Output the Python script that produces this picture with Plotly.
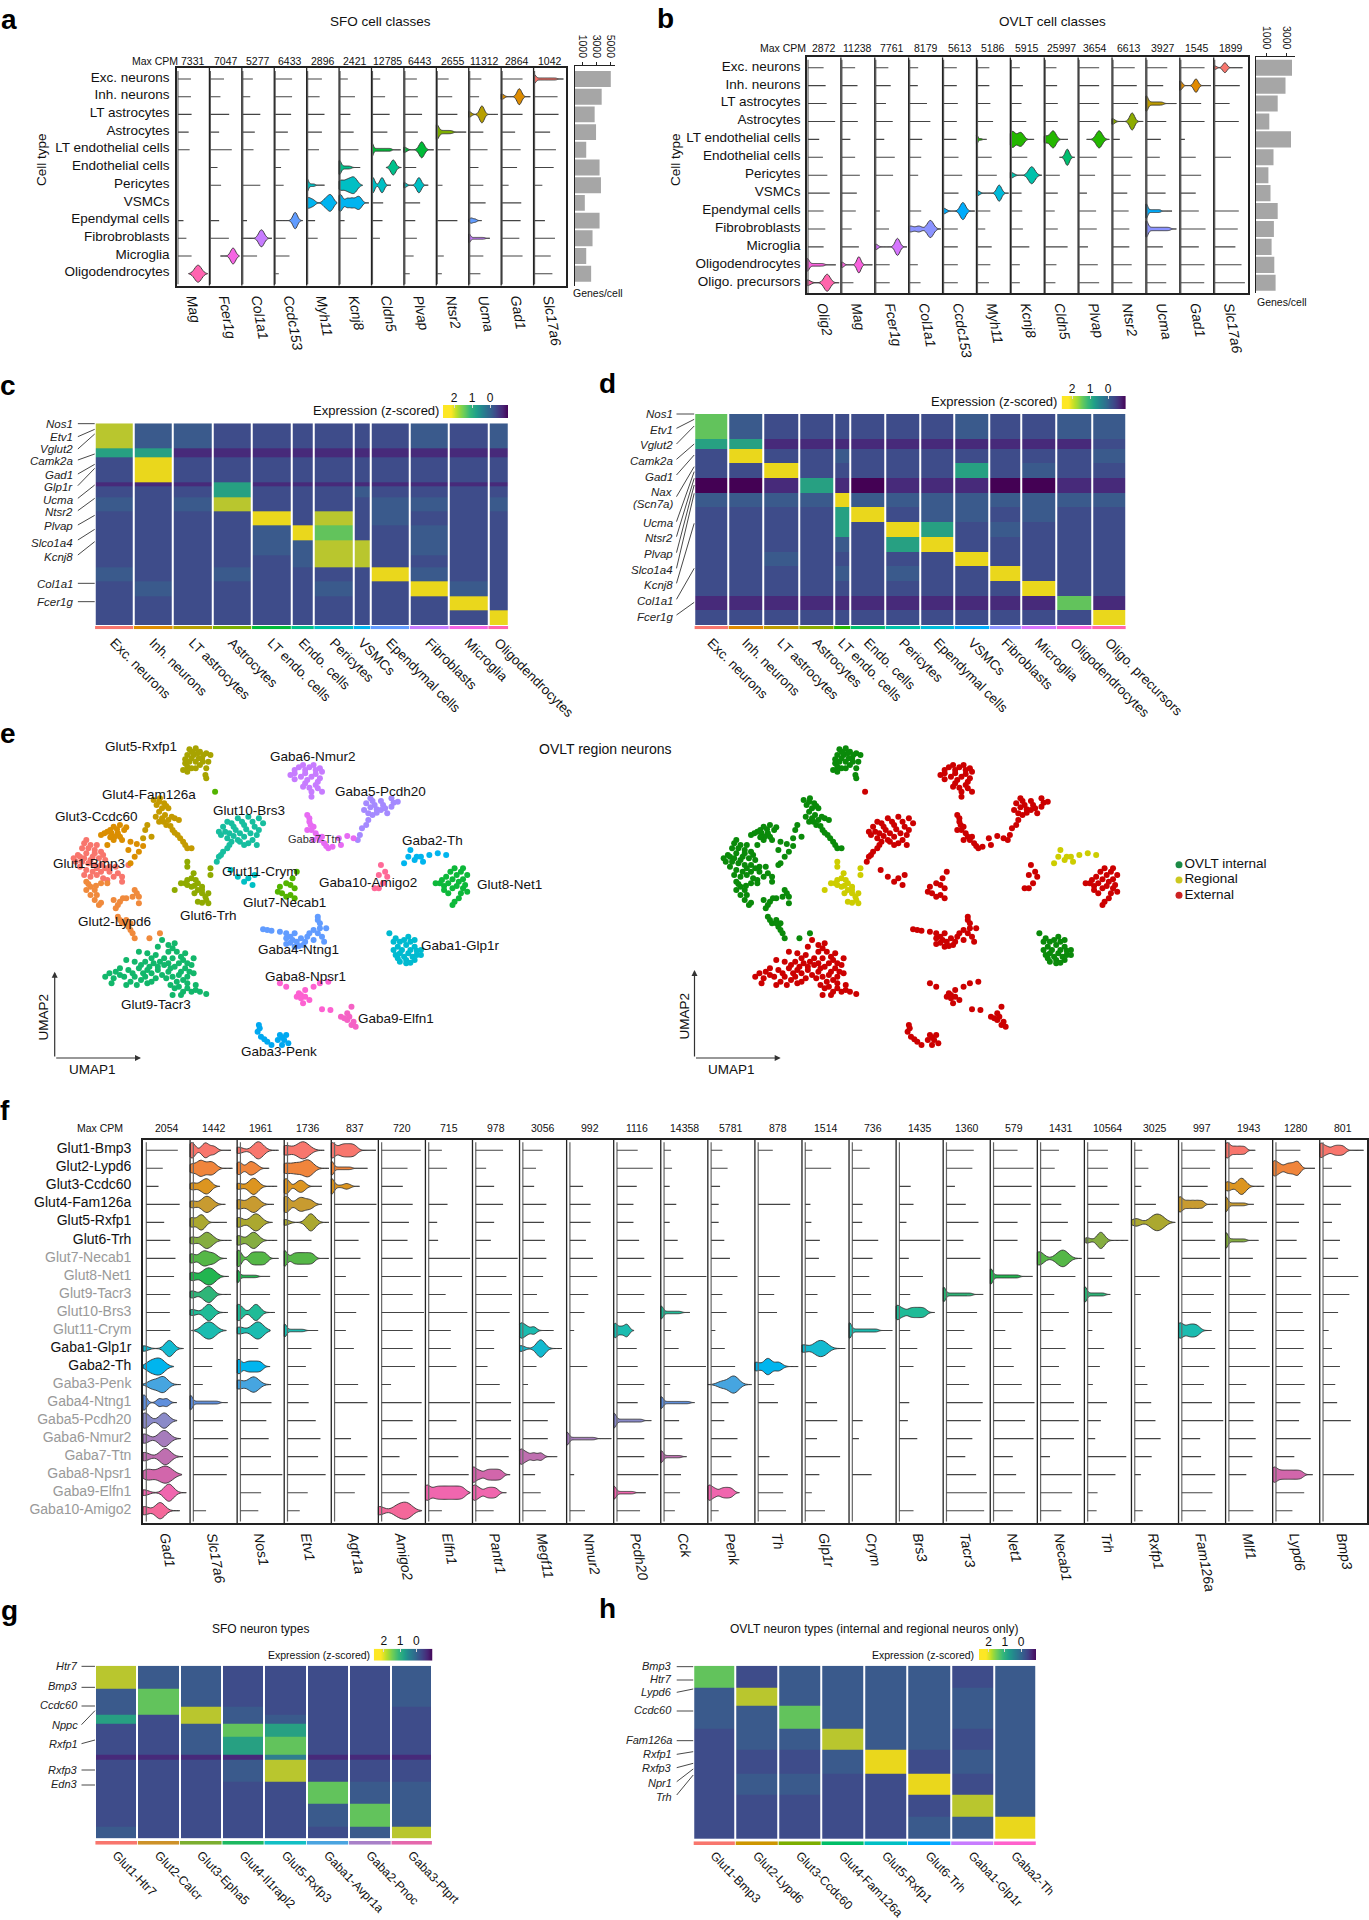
import plotly.graph_objects as go

W, H = 1369, 1920
FONT = "Liberation Sans, Arial, sans-serif"
DARK = "#222222"

# ---------- panels a / b ----------
A_ROWS = ["Exc. neurons", "Inh. neurons", "LT astrocytes", "Astrocytes", "LT endothelial cells", "Endothelial cells",
          "Pericytes", "VSMCs", "Ependymal cells", "Fibrobroblasts", "Microglia", "Oligodendrocytes"]
A_GENES = ["Mag", "Fcer1g", "Col1a1", "Ccdc153", "Myh11", "Kcnj8", "Cldn5", "Plvap", "Ntsr2", "Ucma", "Gad1", "Slc17a6"]
A_MAXCPM = [7331, 7047, 5277, 6433, 2896, 2421, 12785, 6443, 2655, 11312, 2864, 1042]
A_COLORS = ["#F8766D", "#DE8C00", "#B79F00", "#7CAE00", "#00BA38", "#00C08B", "#00BFC4", "#00B4F0", "#619CFF", "#C77CFF", "#F564E3", "#FF64B0"]
A_GENES_PER_CELL = [5100, 3800, 2800, 3000, 1600, 3500, 3700, 1400, 3500, 2500, 1600, 2300]
A_LINES = [
    [.43, .43, .45, .36, .39, 0, 0, 0, .2, .29, .45, 0],
    [.45, .34, .61, .3, .69, .25, .36, 0, .3, .6, 0, 0],
    [.34, .26, .57, .4, .36, 0, .57, 0, .16, 0, .47, 0],
    [.55, .55, .52, .42, .47, .21, .29, 0, 0, .35, .47, .14],
    [.47, .4, .55, .47, .38, 0, 0, 0, .26, .34, 0, 0],
    [.27, .49, .35, .45, .6, 0, 0, 0, .17, .55, 0, 0],
    [.27, .42, .56, .49, 0, 0, 0, .36, .34, .26, 0, 0],
    [.4, .43, .56, .43, 0, .38, 0, .5, .35, .4, .3, .18],
    [.38, .49, .65, 0, .43, 0, .19, 0, .65, 0, .23, .17],
    [.39, .32, 0, .45, .58, .3, .45, .52, 0, 0, .45, .36],
    [.66, 0, .66, .43, .6, .49, .23, .62, .6, .56, .66, 0],
    [0, .74, .77, .51, .69, .62, .27, 0, .35, .66, .53, .58],
]
# row, column, height, low, high, bandwidth, samples
WEDGE = [.01] * 8
A_VIOLINS = [
    (11, 0, .95, .36, .94, .105, [.63, .67]), (10, 1, .9, .34, .92, .075, [.72, .74]),
    (9, 2, .95, 0, .93, .085, [.6, .61]), (8, 3, .92, 0, .88, .07, [.64, .65]),
    (7, 4, .95, 0, .93, .07, [.02, .08, .2, .55, .65, .7, .75, .8]), (6, 4, .75, 0, .55, .04, WEDGE + [.06, .12, .18, .24]),
    (5, 5, .8, 0, .65, .05, WEDGE + [.07, .14, .21, .28, .35]), (6, 5, .95, 0, .72, .09, [.05, .25, .4, .5]),
    (7, 5, .95, 0, .92, .07, [.03, .05, .25, .4, .55, .65]), (4, 6, .8, 0, .9, .04, WEDGE + [.06, .12, .18, .24, .3, .36, .42, .48, .54, .6]),
    (5, 6, .85, .45, .92, .075, [.66, .68]), (6, 6, .9, 0, .6, .06, [.02, .05, .3, .35]),
    (4, 7, .9, 0, .92, .08, [.01, .55, .55, .55]), (6, 7, .85, 0, .75, .07, [.01, .45, .47, .47]),
    (3, 8, .85, 0, .92, .06, WEDGE + [.08, .16, .24, .32, .4, .48]), (2, 9, .95, 0, .9, .07, [.01, .4, .4, .42]),
    (8, 9, .3, 0, .4, .05, [.05, .1, .2]), (9, 9, .5, 0, .65, .04, WEDGE + [.06, .12, .18, .24, .3, .36, .42, .48]),
    (1, 10, .9, 0, .9, .07, [.02, .55, .56, .57]), (0, 11, .55, 0, .92, .05, WEDGE + [.07, .14, .21, .28, .35, .42, .49, .56, .63, .7]),
]

B_ROWS = ["Exc. neurons", "Inh. neurons", "LT astrocytes", "Astrocytes", "LT endothelial cells", "Endothelial cells", "Pericytes",
          "VSMCs", "Ependymal cells", "Fibrobroblasts", "Microglia", "Oligodendrocytes", "Oligo. precursors"]
B_GENES = ["Olig2", "Mag", "Fcer1g", "Col1a1", "Ccdc153", "Myh11", "Kcnj8", "Cldn5", "Plvap", "Ntsr2", "Ucma", "Gad1", "Slc17a6"]
B_MAXCPM = [2872, 11238, 7761, 8179, 5613, 5186, 5915, 25997, 3654, 6613, 3927, 1545, 1899]
B_COLORS = ["#F8766D", "#E18A00", "#BE9C00", "#8CAB00", "#24B700", "#00BE70", "#00C1AB", "#00BBDA", "#00ACFC", "#8B93FF", "#D575FE", "#F962DD", "#FF65AC"]
B_GENES_PER_CELL = [3600, 2950, 2170, 1330, 3500, 1750, 1240, 1450, 2170, 1790, 1560, 1830, 1960]
B_LINES = [
    [.49, .55, .58, .83, .36, .47, .6, .67, .49, .54, .49, 0, 0],
    [.42, .49, .46, .5, .28, .42, .56, .47, .44, .32, .53, 0, .37],
    [.4, .47, .33, .53, .28, .59, .54, 0, .15, .42, 0, .44, .44],
    [.28, .27, .54, .64, .4, .37, .28, 0, .37, 0, 0, .27, .35],
    [.42, .42, .45, .42, .41, .47, .58, .47, 0, .45, .45, .45, .45],
    [.38, .38, .41, .49, 0, .45, .6, 0, .41, .26, .45, .41, .37],
    [.28, .37, .33, .47, 0, .5, 0, .33, .35, .37, .56, .28, .28],
    [.36, .38, .4, .4, 0, 0, .46, .4, .31, .4, .69, .36, .33],
    [.62, .62, .62, .62, 0, .55, .5, .26, .53, .55, .29, .58, .62],
    [.67, .73, .77, 0, .23, .6, .55, .45, .49, .51, .51, .58, .6],
    [.63, .51, 0, .6, .44, .41, .58, .58, 0, 0, .5, .6, .6],
    [.73, 0, .63, .73, .15, .47, .63, .47, .56, .76, .56, .73, .72],
    [0, .77, .47, .74, 0, .51, 0, 0, .74, .71, .64, .82, .92],
]
B_VIOLINS = [
    (11, 0, .7, 0, .85, .05, WEDGE + [.07, .14, .21, .28, .35, .42, .49]), (12, 0, .95, 0, .95, .09, [.01, .58, .6, .6]),
    (11, 1, .9, .02, .93, .06, [.03, .53, .53, .53]), (10, 2, .95, .02, .95, .07, [.02, .67, .67, .67]),
    (9, 3, .95, 0, .95, .09, [.05, .3, .62, .64, .66]), (8, 4, .95, 0, .95, .08, [.03, .6, .6, .6]),
    (7, 5, .9, 0, .95, .07, [.02, .67, .67, .67]), (6, 6, .95, 0, .93, .09, [.01, .6, .63, .66]),
    (4, 6, .9, 0, .7, .07, [.03, .1, .25, .35]), (4, 7, .95, 0, .7, .075, [.03, .2, .27, .3]),
    (5, 7, .9, .45, .9, .06, [.67, .69]), (4, 8, .95, .25, .92, .09, [.61, .63]),
    (3, 9, .95, 0, .92, .07, [.01, .58, .6, .6]), (2, 10, .85, 0, .9, .05, WEDGE + [.07, .14, .21, .28, .35, .42, .49]),
    (8, 10, .8, 0, .77, .04, WEDGE + [.06, .12, .18, .24, .3, .36, .42]), (9, 10, .9, 0, .9, .05, WEDGE + [.07, .14, .21, .28, .35, .42, .49, .56, .63, .7]),
    (4, 5, .5, 0, .3, .03, WEDGE + [.05, .1, .15]), (1, 11, .75, 0, .92, .06, [.01, .01, .45, .48, .5]),
    (0, 12, .55, 0, .85, .055, [.03, .3, .33, .36]),
]

# ---------- panels c / d / g / h: marker heatmaps ----------
C_CLUSTERS = ["Exc. neurons", "Inh. neurons", "LT astrocytes", "Astrocytes", "LT endo. cells", "Endo. cells", "Pericytes", "VSMCs",
              "Ependymal cells", "Fibroblasts", "Microglia", "Oligodendrocytes"]
C_X_EDGES = [225, 317, 411, 505, 598, 692, 746, 840, 880, 973, 1067, 1160, 1208]
C_Y_EDGES = [160, 235, 262, 290, 338, 350, 382, 402, 424, 467, 510, 555, 592, 635, 678, 720, 765]
C_BANDS = ["733222222323", "551111111111", "282222222222", "282222222222", "111511111111", "222522232222", "323722223323",
           "323722223323", "222282723222", "222238622322", "222233772322", "222223772222", "322322228322", "232222322832",
           "222222222282", "222222222228"]
C_GENES = [("Nos1", 161, 161, 161), ("Etv1", 200, 200, 178), ("Vglut2", 237, 237, 192), ("Camk2a", 273, 270, 252),
           ("Gad1", 315, 312, 283), ("Glp1r", 352, 347, 295), ("Ucma", 390, 385, 345), ("Ntsr2", 426, 422, 385),
           ("Plvap", 469, 465, 436), ("Slco1a4", 518, 510, 478), ("Kcnj8", 561, 555, 515), ("Col1a1", 642, 640, 640),
           ("Fcer1g", 695, 695, 695)]

D_CLUSTERS = ["Exc. neurons", "Inh. neurons", "LT astrocytes", "Astrocytes", "LT endo. cells", "Endo. cells", "Pericytes",
              "Ependymal cells", "VSMCs", "Fibroblasts", "Microglia", "Oligodendrocytes", "Oligo. precursors"]
D_X_EDGES = [200, 281, 365, 449, 532, 571, 654, 738, 818, 902, 977, 1061, 1145, 1226]
D_Y_EDGES = [132, 208, 237, 280, 323, 368, 412, 456, 500, 545, 588, 632, 677, 720, 765]
D_BANDS = ["6322222232233", "5511111111112", "2822322222223", "2282222252322", "0015101110011", "3333833333333",
           "2222582332322", "2222528523222", "2222325822222", "2232222282222", "2222323228222", "2222222222822",
           "1111111111161", "2222222222228"]
D_GENES = [("Nos1", 132, 132, 132), ("Etv1", 179, 175, 148), ("Vglut2", 226, 222, 168), ("Camk2a", 273, 268, 222),
           ("Gad1", 320, 315, 255), ("Nax", 367, 380, 290), ("(Scn7a)", 403, None, None), ("Ucma", 458, 455, 305),
           ("Ntsr2", 505, 500, 325), ("Plvap", 552, 548, 345), ("Slco1a4", 599, 595, 370), ("Kcnj8", 646, 640, 460),
           ("Col1a1", 693, 688, 595), ("Fcer1g", 740, 735, 697)]

G_CLUSTERS = ["Glut1-Htr7", "Glut2-Calcr", "Glut3-Epha5", "Glut4-Il1rapl2", "Glut5-Rxfp3", "Gaba1-Avpr1a", "Gaba2-Pnoc", "Gaba3-Ptprt"]
G_X_EDGES = [219, 317, 414, 512, 609, 707, 804, 902, 997]
G_Y_EDGES = [227, 295, 350, 375, 400, 440, 495, 510, 575, 640, 710, 745]
G_BANDS = ["73322223", "36322223", "36732222", "52733222", "22365222", "22356222", "11114111", "22237222", "22222633", "22222363", "32222237"]
G_COLORS = ["#F8766D", "#CD9128", "#7CAE30", "#1CB860", "#12BFC4", "#4AA4E0", "#A880C8", "#E568AC"]
G_GENES = [("Htr7", 227, 229, 229), ("Bmp3", 289, 292, 292), ("Ccdc60", 346, 348, 348), ("Nppc", 404, 404, 362),
           ("Rxfp1", 461, 461, 450), ("Rxfp3", 539, 540, 540), ("Edn3", 583, 585, 585)]

H_CLUSTERS = ["Glut1-Bmp3", "Glut2-Lypd6", "Glut3-Ccdc60", "Glut4-Fam126a", "Glut5-Rxfp1", "Glut6-Trh", "Gaba1-Glp1r", "Gaba2-Th"]
H_X_EDGES = [238, 335, 434, 533, 632, 732, 832, 931, 1029]
H_Y_EDGES = [197, 262, 318, 385, 450, 520, 585, 650, 717]
H_BANDS = ["62333323", "37333333", "33633333", "23373323", "22238233", "23322823", "22222273", "22222338"]
H_COLORS = ["#F8766D", "#CD9600", "#7CAE00", "#00BE67", "#00BFC4", "#00A9FF", "#C77CFF", "#FF61CC"]
H_GENES = [("Bmp3", 197, 200, 200), ("Htr7", 237, 240, 240), ("Lypd6", 275, 277, 267), ("Ccdc60", 331, 333, 333),
           ("Fam126a", 420, 422, 422), ("Rxfp1", 463, 463, 455), ("Rxfp3", 505, 503, 490), ("Npr1", 549, 545, 507), ("Trh", 590, 585, 525)]

HEAT_LEVELS = ["#440154", "#472a7a", "#3e4c8a", "#3a5a8c", "#2f7f8e", "#27a082", "#62c35c", "#b9c62e", "#ead71c", "#fde725"]
COLORBAR_Z = [2.6, 2.3, 2.0, 1.7, 1.4, 1.1, .8, .5, .2, -.1, -.4, -.7, -1.0]
COLORBAR_TICKS = [2, 1, 0]

# ---------- panel e: UMAP ----------
UMAP_CLUSTERS = {
    "Glut1": [(205,360),(215,375),(195,385),(225,390),(240,395),(185,405),(205,400),(220,410),(235,415),(250,420),(180,425),(195,425),(210,430),(225,435),(240,435),(260,440),(205,450),(220,455),(240,455),(260,455),(280,460),(290,470),(215,470),(245,475),(275,440),(225,400),(190,410),(290,485),(305,435),(200,370),(230,375),(210,385),(175,415),(200,415),(215,420),(245,405),(190,440),(230,445),(250,445),(200,465),(230,465),(270,470),(255,480)],
    "Glut2": [(205,485),(215,500),(205,510),(225,510),(240,490),(255,490),(215,525),(225,540),(235,555),(270,540),(285,545),(300,535),(320,510),(330,530),(315,530),(330,550),(275,565),(280,590),(290,610),(305,620),(315,640),(320,655),(300,600),(310,610),(355,655),(380,640),(210,492),(230,525),(240,548),(280,555),(292,535),(325,520),(285,600),(310,630),(228,497),(300,610)],
    "Glut3": [(240,345),(255,335),(270,320),(285,315),(300,322),(265,340),(280,340),(290,360),(270,360),(255,375),(310,365),(325,372),(340,378),(330,395),(320,410),(310,430),(305,390),(295,330),(248,340),(262,330),(278,328),(272,350),(262,352),(285,350)],
    "Glut4": [(365,240),(380,235),(390,250),(372,255),(385,265),(400,265),(370,290),(385,295),(400,300),(415,295),(425,300),(395,315),(378,305),(410,330),(422,345),(435,365),(445,385),(455,385),(350,315),(345,330),(360,350),(340,355),(378,245),(395,258),(378,275),(392,285),(408,290),(388,305),(405,318),(415,338),(428,355),(440,375)],
    "Glut5": [(450,88),(465,85),(475,95),(490,100),(500,105),(445,105),(460,105),(480,115),(495,125),(465,125),(450,125),(440,130),(435,150),(445,155),(455,145),(475,135),(490,145),(488,165),(490,175),(470,100),(455,95),(458,97),(483,105),(455,115),(472,115),(445,140),(465,145),(482,125),(440,118)],
    "Glut6": [(440,490),(455,475),(470,490),(480,500),(430,490),(455,500),(470,510),(480,520),(495,520),(490,540),(470,545),(495,550),(445,440),(445,425),(500,445),(500,465),(415,510),(460,460),(445,480),(465,480),(445,495),(462,497),(480,510),(462,520),(488,530),(480,548)],
    "Glut7": [(705,455),(695,475),(680,490),(665,500),(690,495),(700,505),(670,520),(690,525),(700,535),(660,515),(680,530),(511,215)],
    "Glut8": [(1080,445),(1100,445),(1110,465),(1060,470),(1085,465),(1045,490),(1065,490),(1090,485),(1035,490),(1075,505),(1100,505),(1110,515),(1055,510),(1080,545),(1090,535),(1075,555),(1070,455),(1095,455),(1050,480),(1075,478),(1100,478),(1055,498),(1085,498),(1105,495),(1065,520),(1095,520)],
    "Glut9": [(385,660),(400,675),(415,670),(400,695),(420,695),(440,700),(460,715),(330,695),(350,700),(370,705),(390,715),(410,715),(435,720),(455,735),(300,720),(320,725),(345,725),(365,730),(390,735),(415,740),(440,745),(460,760),(285,745),(305,750),(330,745),(350,750),(375,750),(400,755),(425,765),(445,770),(260,760),(250,770),(270,775),(295,770),(320,770),(345,770),(370,775),(395,775),(420,785),(445,790),(465,795),(300,795),(325,795),(350,790),(415,805),(435,815),(455,815),(475,815),(490,822),(410,825),(430,825),(375,680),(410,685),(430,710),(360,715),(380,725),(400,730),(425,730),(445,730),(335,735),(355,740),(375,740),(405,745),(430,755),(450,755),(315,760),(340,760),(360,760),(385,765),(410,770),(435,780),(285,765),(310,785),(335,780),(360,785),(405,795),(425,800),(445,805),(465,810),(275,755),(265,790)],
    "Glut10": [(540,305),(565,295),(590,290),(615,295),(625,310),(530,320),(555,320),(580,315),(605,320),(615,330),(520,335),(545,340),(570,340),(595,340),(540,355),(565,360),(590,370),(610,375),(545,375),(530,395),(520,410),(515,425),(570,365),(550,310),(575,305),(600,305),(535,335),(560,330),(585,328),(610,345),(525,345),(555,348),(580,350),(600,360),(550,365),(580,375),(540,385),(525,405)],
    "Glut11": [(548,450),(565,470),(580,485),(600,495),(590,475),(605,465)],
    "Gaba1": [(925,640),(940,655),(950,665),(970,650),(985,660),(945,680),(965,675),(985,680),(1000,690),(935,690),(950,700),(970,700),(990,705),(945,715),(965,720),(985,720),(965,730),(1000,705),(935,665),(960,660),(975,665),(955,690),(975,690),(990,692),(940,705),(960,710),(980,710),(950,725),(975,728)],
    "Gaba2": [(975,390),(970,410),(960,430),(985,420),(1000,410),(1020,405),(1040,400),(1060,405),(1005,425),(990,410)],
    "Gaba3": [(615,915),(612,935),(620,950),(635,965),(645,975),(665,945),(680,945),(660,960),(675,960),(685,970),(670,975),(617,925),(628,958),(670,952)],
    "Gaba4": [(625,628),(645,632),(665,635),(680,640),(700,640),(755,590),(760,610),(775,625),(745,630),(755,640),(730,650),(680,655),(695,660),(715,655),(745,660),(770,665),(680,672),(700,680),(720,675),(635,630),(690,650),(705,665),(725,665),(735,640),(760,625),(765,650),(755,600),(690,668),(710,678)],
    "Gaba5": [(880,235),(930,235),(945,245),(870,250),(890,255),(910,255),(930,260),(865,270),(905,270),(920,280),(885,285),(875,300),(870,315),(860,325),(855,345),(850,360),(885,243),(905,243),(935,248),(880,262),(895,268),(915,265),(875,280),(895,278)],
    "Gaba6": [(720,135),(745,135),(700,150),(725,150),(750,150),(765,155),(690,165),(715,170),(740,170),(760,175),(725,190),(750,195),(740,215),(765,215),(740,230),(720,200),(710,142),(735,142),(760,145),(700,160),(725,160),(750,162),(700,178),(730,180),(755,185),(735,203),(755,205)],
    "Gaba7": [(730,285),(735,305),(745,320),(730,330),(750,340),(765,350),(745,360),(770,370),(790,380),(780,385),(805,355),(825,348),(840,355),(810,375),(735,295),(738,315),(740,330),(755,350),(760,360),(775,378)],
    "Gaba8": [(665,790),(680,800),(710,820),(725,810),(745,800),(760,790),(780,785),(715,835),(735,840),(720,850),(765,868),(785,870),(715,825),(725,830),(705,830)],
    "Gaba9": [(835,860),(825,880),(810,890),(825,900),(835,915),(845,920),(830,890),(840,905),(818,895)],
    "Gaba10": [(905,435),(915,455),(900,465),(920,470),(910,490),(890,505),(900,505)],
}
UMAP_COLORS = {"Glut1": "#F8766D", "Glut2": "#F08A3C", "Glut3": "#DB8E00", "Glut4": "#C49A00", "Glut5": "#A8A300", "Glut6": "#8FAA00",
               "Glut7": "#53B400", "Glut8": "#0DB83A", "Glut9": "#12B76B", "Glut10": "#17BE9F", "Glut11": "#00BFC4", "Gaba1": "#00BAD0",
               "Gaba2": "#00B5EE", "Gaba3": "#00A8F0", "Gaba4": "#619CFF", "Gaba5": "#A58AFF", "Gaba6": "#C77CFF", "Gaba7": "#E76BF3",
               "Gaba8": "#FD61D1", "Gaba9": "#F562C5", "Gaba10": "#FF6A98"}
UMAP_STATUS = {"OVLT internal": ["Glut1", "Glut2", "Glut3", "Glut4", "Glut5", "Gaba1"], "Regional": ["Glut6", "Gaba2"],
               "External": ["Glut7", "Glut8", "Glut9", "Glut10", "Glut11", "Gaba3", "Gaba4", "Gaba5", "Gaba6", "Gaba7", "Gaba8", "Gaba9", "Gaba10"]}
STATUS_COLORS = {"OVLT internal": "#0A8A0A", "Regional": "#CDCD00", "External": "#CC0000"}
LEGEND_COLORS = {"OVLT internal": "#1B8A45", "Regional": "#CCC820", "External": "#CC2222"}
UMAP_LABELS = [("Glut5-Rxfp1", 335, 78), ("Gaba6-Nmur2", 743, 110), ("Gaba5-Pcdh20", 905, 213), ("Glut4-Fam126a", 353, 222),
               ("Glut10-Brs3", 592, 270), ("Glut3-Ccdc60", 230, 288), ("Gaba2-Th", 1028, 360), ("Glut1-Bmp3", 212, 430),
               ("Glut11-Crym", 617, 453), ("Gaba10-Amigo2", 875, 488), ("Glut8-Net1", 1210, 493), ("Glut7-Necab1", 677, 546),
               ("Glut6-Trh", 495, 587), ("Glut2-Lypd6", 272, 603), ("Gaba1-Glp1r", 1095, 675), ("Gaba4-Ntng1", 710, 687),
               ("Gaba8-Npsr1", 725, 768), ("Glut9-Tacr3", 371, 853), ("Gaba9-Elfn1", 940, 895), ("Gaba3-Penk", 662, 995)]

# ---------- panel f ----------
F_ROWS = ["Glut1-Bmp3", "Glut2-Lypd6", "Glut3-Ccdc60", "Glut4-Fam126a", "Glut5-Rxfp1", "Glut6-Trh", "Glut7-Necab1", "Glut8-Net1",
          "Glut9-Tacr3", "Glut10-Brs3", "Glut11-Crym", "Gaba1-Glp1r", "Gaba2-Th", "Gaba3-Penk", "Gaba4-Ntng1", "Gaba5-Pcdh20",
          "Gaba6-Nmur2", "Gaba7-Ttn", "Gaba8-Npsr1", "Gaba9-Elfn1", "Gaba10-Amigo2"]
F_ROW_IS_BLACK = [1, 1, 1, 1, 1, 1, 0, 0, 0, 0, 0, 1, 1, 0, 0, 0, 0, 0, 0, 0, 0]
F_COLORS = ["#F8766D", "#F0853C", "#DC9520", "#C89B30", "#ABA82F", "#85AD40", "#55B747", "#22B550", "#2EB578", "#1FBB97", "#1BBCB0",
            "#12BAD0", "#00B5EE", "#46A5E0", "#5F8FDC", "#8A8AC8", "#A67CBC", "#BF6FB0", "#D266AB", "#F066AE", "#F4689A"]
F_GENES = ["Gad1", "Slc17a6", "Nos1", "Etv1", "Agtr1a", "Amigo2", "Elfn1", "Pantr1", "Megf11", "Nmur2", "Pcdh20", "Cck", "Penk", "Th",
           "Glp1r", "Crym", "Brs3", "Tacr3", "Net1", "Necab1", "Trh", "Rxfp1", "Fam126a", "Mlf1", "Lypd6", "Bmp3"]
F_MAXCPM = [2054, 1442, 1961, 1736, 837, 720, 715, 978, 3056, 992, 1116, 14358, 5781, 878, 1514, 736, 1435, 1360, 579, 1431, 10564, 3025, 997, 1943, 1280, 801]
F_LINES = [
    [.74, .42, .33, .78, .45, .58, .69, .66, .58, .57, .58, 0, 0, 0, 0, 0, 0, 0, 0, 0, 0],
    [0, 0, 0, 0, 0, 0, 0, 0, 0, 0, 0, .49, .47, .27, 0, .7, .81, .81, .78, 0, .34],
    [0, 0, 0, 0, 0, 0, 0, 0, .7, 0, 0, .45, 0, 0, .73, .62, .67, .72, .96, .51, .45],
    [0, 0, 0, 0, 0, .58, 0, .5, .77, .48, 0, .58, .46, .52, .52, .67, .77, .72, .88, .5, .33],
    [0, 0, 0, .96, .81, .58, .62, .31, .81, .53, .31, .48, 0, .57, .77, 0, .42, .77, .72, .5, 0],
    [.9, .62, .52, .73, .65, .62, .73, .9, .73, .97, .73, .73, .78, .27, .92, .73, .82, .45, .82, .66, 0],
    [.35, .46, 0, .47, .25, .27, .95, .78, .43, .89, .54, .54, .66, 0, .95, .66, .97, .7, .92, 0, .35],
    [.65, .29, .46, .65, .46, .39, .96, .72, .84, .79, .46, .46, .32, .58, .82, .82, .82, .77, 0, 0, .45],
    [.49, .35, .31, .57, .52, .54, .57, .5, .37, .62, 0, 0, .36, .18, .75, .6, .6, 0, .33, .45, .56],
    [0, 0, .35, .51, .51, .41, .56, .65, .46, .38, .16, 0, .44, 0, 0, 0, 0, 0, .16, 0, .39],
    [.51, .83, .49, .42, .42, .54, .65, .8, .65, .66, 0, .49, .51, .65, .51, 0, .65, .65, .95, 0, .56],
    [.22, .24, .19, .33, .19, .36, .48, .97, .55, 0, .22, .38, .96, .2, 0, .39, .46, 0, .43, .41, .3],
    [.31, .42, .26, .23, .23, .35, .47, .63, .31, .4, .16, .36, .58, 0, .44, .35, .63, .5, .63, 0, .23],
    [.38, 0, 0, .75, 0, 0, 0, .53, .41, .47, 0, 0, 0, .41, .49, 0, 0, .31, .7, .6, .66],
    [.22, .62, 0, .18, .2, .38, .36, .71, .33, .33, 0, 0, .31, 0, .32, .75, .32, .81, .37, .21, .49],
    [.28, .44, 0, .29, .28, .62, .5, .43, .47, .53, 0, .78, 0, 0, 0, .29, .21, 0, .48, 0, 0],
    [0, 0, .31, .37, .22, .94, .27, .57, .3, 0, .3, .45, .37, 0, .28, .25, .45, 0, 0, 0, .37],
    [.65, .62, .25, .48, .75, .43, .79, 0, 0, .72, .45, .62, .47, .55, .84, .8, .62, .47, .7, .93, .87],
    [.58, .92, .88, .86, .58, .58, 0, 0, .9, .69, .32, .45, .5, .67, .94, .74, .92, .48, .55, .74, .48],
    [.46, .37, .81, .51, .65, .51, 0, .81, .36, .67, .34, .6, .46, .5, .78, .88, .78, .27, .94, .74, .51],
    [.5, .5, .49, .74, .59, 0, .43, .59, 0, .59, .17, .42, .33, .18, .48, .35, .23, .89, .66, .28, .26],
    [.23, .36, .21, .52, 0, 0, 0, .6, .2, 0, 0, .2, .29, .34, .42, .51, .62, .43, .2, 0, .24],
    [.78, .67, .62, 0, .73, .78, .88, .91, .75, .69, 0, .78, .65, .54, .71, .95, .46, .48, .78, .72, .58],
    [0, .58, 0, 0, .88, 0, .58, .53, .85, .66, .6, .64, .94, .44, .62, .59, .64, .57, .44, 0, .59],
    [.59, 0, .39, .67, .56, .51, .72, .61, .82, .64, .67, .66, .64, .68, .59, .56, .81, .46, 0, .67, .42],
    [0, .26, .67, .45, .26, .43, .39, .82, .63, .39, .19, .26, .43, .33, .37, .66, 0, 0, .73, 0, 0],
]
TAIL4 = WEDGE + [.06, .12, .18, .24, .3, .36, .42]
TAIL6 = WEDGE + [.06, .12, .18, .24, .3, .36, .42, .48, .54, .6]
F_VIOLINS = [
    (11, 0, .9, 0, .86, .09, [.02, .56, .56, .56]), (12, 0, .95, 0, .65, .1, [.15, .3, .4]), (13, 0, .9, 0, .8, .1, [.2, .4, .45]),
    (14, 0, .85, 0, .72, .06, [.02, .02, .35, .5]), (15, 0, .85, 0, .72, .1, [.04, .45]), (16, 0, .9, 0, .8, .1, [.03, .4, .5]),
    (17, 0, .9, 0, .85, .11, [.03, .45, .5]), (18, 0, .95, 0, .82, .12, [.1, .4, .55]), (19, 0, .95, 0, .92, .1, [.02, .55, .55, .55]),
    (20, 0, .9, 0, .78, .1, [.03, .35, .38]),
    (0, 1, .85, 0, .87, .07, [.03, .05, .3, .35, .5]), (1, 1, .9, 0, .9, .08, [.03, .2, .25, .4, .5]), (2, 1, .85, 0, .63, .08, [.05, .25, .35, .4]),
    (3, 1, .9, 0, .75, .09, [.05, .3, .35, .45]), (4, 1, .85, 0, .78, .07, [.03, .2, .28]), (5, 1, .9, 0, .88, .09, [.05, .3, .35, .45]),
    (6, 1, .85, 0, .78, .08, [.03, .25, .35, .5]), (7, 1, .95, 0, .82, .09, [.05, .3, .4, .5]), (8, 1, .9, 0, .87, .08, [.05, .3, .4, .45]),
    (9, 1, .9, 0, .8, .09, [.05, .35, .4, .45]), (10, 1, .95, .03, .77, .1, [.3, .4, .5]), (14, 1, .8, 0, .8, .04, TAIL6),
    (0, 2, .95, 0, .88, .1, [.03, .4, .45, .5]), (1, 2, .75, 0, .68, .07, [.03, .05, .25, .3, .4]), (2, 2, .9, 0, .85, .09, [.03, .3, .35, .4]),
    (3, 2, .9, 0, .78, .1, [.03, .3, .4]), (4, 2, .95, 0, .75, .1, [.03, .35, .45]), (5, 2, .9, 0, .85, .09, [.03, .3, .4]),
    (6, 2, .9, 0, .88, .06, [.01, .05, .3, .4, .5, .6]), (7, 2, .7, 0, .7, .04, TAIL4), (9, 2, .9, 0, .8, .09, [.03, .03, .4, .4]),
    (10, 2, .95, 0, .7, .1, [.05, .35, .45, .5]), (12, 2, .8, 0, .7, .06, [.02, .05, .2, .3, .4, .5]), (13, 2, .85, 0, .72, .1, [.03, .3, .4]),
    (0, 3, .95, 0, .85, .12, [.03, .35, .45]), (1, 3, .95, 0, .95, .1, [.03, .25, .45, .55]), (2, 3, .85, 0, .8, .07, [.03, .05, .3, .4]),
    (3, 3, .9, 0, .8, .08, [.03, .05, .3, .4, .55]), (4, 3, .95, 0, .95, .09, [.01, .55, .55, .6]), (6, 3, .85, 0, .95, .06, [.01, .01, .2, .3, .4, .5, .6]),
    (10, 3, .7, 0, .72, .04, TAIL4),
    (0, 4, .85, 0, .95, .07, [.01, .03, .2, .3, .4, .5]), (1, 4, .75, 0, .77, .04, TAIL4), (2, 4, .85, 0, .6, .05, WEDGE + [.1, .2, .3, .3, .35, .4]),
    (20, 5, .95, 0, .92, .11, [.02, .4, .55, .65]), (19, 6, .85, 0, .95, .07, [.02, .05, .2, .3, .4, .5, .6, .7, .8]),
    (18, 7, .85, 0, .8, .06, [.02, .02, .15, .3, .4, .5, .6]), (19, 7, .85, 0, .72, .06, [.02, .05, .15, .3, .4, .5]),
    (10, 8, .85, 0, .72, .06, [.02, .05, .15, .3]), (11, 8, .95, 0, .9, .09, [.02, .45, .45, .45]), (17, 8, .85, 0, .8, .06, [.02, .04, .15, .3, .45]),
    (16, 9, .7, 0, .95, .04, TAIL6),
    (10, 10, .8, 0, .43, .05, [.03, .03, .15, .25, .3]), (15, 10, .8, 0, .8, .04, TAIL6), (19, 10, .7, 0, .68, .04, TAIL4),
    (9, 11, .7, 0, .62, .04, TAIL4), (14, 11, .65, 0, .72, .04, TAIL6), (17, 11, .65, 0, .55, .04, TAIL4),
    (13, 12, .95, 0, .93, .1, [.3, .5, .55, .6]), (19, 12, .85, 0, .67, .06, [.03, .03, .15, .3, .4, .5]),
    (12, 13, .9, 0, .92, .08, [.03, .25, .3, .5]), (11, 14, .9, 0, .92, .1, [.03, .3, .4, .5]), (10, 15, .85, 0, .92, .04, TAIL6),
    (9, 16, .8, 0, .82, .06, [.02, .03, .15, .3, .4, .5, .6]), (8, 17, .8, 0, .85, .04, TAIL6), (7, 18, .85, 0, .9, .04, TAIL6),
    (6, 19, .92, 0, .94, .1, [.03, .05, .45, .55, .6]), (5, 20, .9, .03, .93, .08, [.05, .35, .35, .35]), (8, 20, .85, 0, .55, .04, TAIL4),
    (4, 21, .92, 0, .93, .1, [.1, .45, .55, .65]), (3, 22, .85, 0, .83, .05, [.02, .02, .1, .2, .3, .4, .5]), (10, 22, .85, 0, .7, .07, [.02, .05, .2, .3, .4]),
    (0, 23, .85, 0, .63, .05, [.01, .03, .1, .2, .3, .4]), (2, 23, .9, 0, .82, .08, [.05, .3, .38]), (3, 23, .8, 0, .6, .04, TAIL4),
    (5, 23, .85, 0, .7, .04, TAIL4), (1, 24, .85, 0, .9, .06, [.02, .05, .15, .3, .4, .5, .55]), (18, 24, .85, 0, .85, .06, [.02, .02, .1, .2, .3, .4, .5, .6]),
    (0, 25, .8, 0, .93, .06, [.02, .03, .15, .3, .4, .5]),
]

# ---------- helpers ----------
fig = go.Figure()
layout = {}
annotations = []
shapes = []
axis_count = [0]


def new_axes(box, xopts=None, yopts=None):
    axis_count[0] += 1
    n = axis_count[0]
    x0, x1, y0, y1 = box
    base = dict(showgrid=False, zeroline=False, showticklabels=False, ticks="", showline=False, type="linear")
    xa = dict(base, domain=[x0 / W, x1 / W], anchor=f"y{n}")
    ya = dict(base, domain=[1 - y1 / H, 1 - y0 / H], anchor=f"x{n}")
    xa.update(xopts or {})
    ya.update(yopts or {})
    layout[f"xaxis{n}"] = xa
    layout[f"yaxis{n}"] = ya
    return f"x{n}", f"y{n}"


def text(px, py, s, size=13.5, xanchor="center", angle=0, color="#111111", bold=False, italic=False):
    if bold:
        s = f"<b>{s}</b>"
    if italic:
        s = f"<i>{s}</i>"
    annotations.append(dict(x=px / W, y=1 - py / H, xref="paper", yref="paper", text=s, showarrow=False, xanchor=xanchor,
                            yanchor="middle", textangle=angle, font=dict(size=size, color=color, family=FONT)))


def stacked_violin(box, row_ys, rows, genes, maxcpm, lines, violins, colors, row_font, cpm_y, baseline, standoff, row_dy, label_colors=None):
    """row_ys = (first row centre px, row spacing px)"""
    x0, x1, y0, y1 = box
    first, step = row_ys
    nc = len(genes)
    ticktext = rows if label_colors is None else [
        r if k else f'<span style="color:#999999">{r}</span>' for r, k in zip(rows, label_colors)]
    xa, ya = new_axes(
        box,
        dict(range=[0, nc], showline=True, mirror=True, linecolor=DARK, linewidth=1.6, showticklabels=True,
             tickvals=[i + .5 for i in range(nc)], ticktext=[f"<i>{g}</i>" for g in genes], tickangle=80,
             tickfont=dict(size=14, family=FONT, color="#111111"), ticklabelstandoff=-2),
        dict(range=[(y1 - first) / step, (y0 - first) / step], showline=True, mirror=True, linecolor=DARK, linewidth=1.6,
             showticklabels=True, tickvals=[i - row_dy for i in range(len(rows))], ticktext=ticktext,
             tickfont=dict(size=row_font, family=FONT, color="#111111"), ticklabelstandoff=standoff))
    ny = len(rows)
    sx, sy, bx, by = [], [], [], []
    for c in range(1, nc):
        sx += [c, c, None]
        sy += [(y1 - first) / step, (y0 - first) / step, None]
    for c in range(nc):
        bx += [c + baseline, c + baseline, None]
        by += [ny - .4, -.45, None]
    fig.add_trace(go.Scatter(x=bx, y=by, mode="lines", line=dict(color="#666666", width=1.2), xaxis=xa, yaxis=ya, hoverinfo="skip", showlegend=False))
    fig.add_trace(go.Scatter(x=sx, y=sy, mode="lines", line=dict(color=DARK, width=1.3), xaxis=xa, yaxis=ya, hoverinfo="skip", showlegend=False))
    lx, ly = [], []
    for c, col in enumerate(lines):
        for r, v in enumerate(col):
            if v:
                lx += [c + baseline, c + v, None]
                ly += [r, r, None]
    fig.add_trace(go.Scatter(x=lx, y=ly, mode="lines", line=dict(color="#444444", width=1.1), xaxis=xa, yaxis=ya, hoverinfo="skip", showlegend=False))
    for r, c, h, lo, hi, bw, samples in violins:
        fig.add_trace(go.Violin(x=[c + s for s in samples], y0=r, orientation="h", width=h, scalemode="width", spanmode="manual",
                                span=[c + lo, c + hi], bandwidth=bw, side="both", points=False, fillcolor=colors[r],
                                line=dict(color="#333333", width=.9), hoverinfo="skip", showlegend=False, xaxis=xa, yaxis=ya, opacity=1))
    for c, v in enumerate(maxcpm):
        annotations.append(dict(x=c + .5, y=1 - cpm_y / H, xref=xa, yref="paper", text=str(v), showarrow=False, yanchor="middle",
                                font=dict(size=10.5, family=FONT, color="#111111")))
    return xa, ya


def gene_bars(box, row_ys, n, values, rng, ticks, color="#A6A6A6"):
    first, step = row_ys
    x0, x1, y0, y1 = box
    xa, ya = new_axes(
        box,
        dict(range=[0, rng], side="top", showline=True, linecolor=DARK, linewidth=1, showticklabels=True, tickvals=ticks,
             ticks="outside", ticklen=3, tickcolor=DARK, tickangle=90, tickfont=dict(size=10.5, family=FONT, color="#111111")),
        dict(range=[(y1 - first) / step, (y0 - first) / step], showline=True, linecolor=DARK, linewidth=1))
    fig.add_trace(go.Bar(x=values, y=list(range(n)), orientation="h", width=.9, marker=dict(color=color, line=dict(width=0)),
                         xaxis=xa, yaxis=ya, hoverinfo="skip", showlegend=False))


def colorbar(box, tick_px):
    x0, x1, y0, y1 = box
    unit = (tick_px[2] - tick_px[0]) / 2
    xa, ya = new_axes(
        box,
        dict(range=[2 - (x0 - tick_px[0]) / unit, 2 - (x1 - tick_px[0]) / unit], side="top", showticklabels=True,
             tickvals=COLORBAR_TICKS, ticks="inside", ticklen=3, tickcolor="#dddddd", tickfont=dict(size=12, family=FONT, color="#111111")),
        dict(range=[0, 1]))
    fig.add_trace(go.Heatmap(x=COLORBAR_Z, y=[0, 1], z=[COLORBAR_Z, COLORBAR_Z], zsmooth="best", zmin=-1, zmax=2.2, colorscale="Viridis",
                             showscale=False, hoverinfo="skip", xaxis=xa, yaxis=ya))


def marker_heatmap(box, strip, x_edges, y_edges, bands, clusters, colors, label_font=13.5, label_angle=45, label_standoff=2):
    levels = [[int(ch) for ch in b] for b in bands]
    xa, ya = new_axes(box, dict(range=[x_edges[0], x_edges[-1]]), dict(range=[y_edges[-1], y_edges[0]]))
    scale = [[i / 9, c] for i, c in enumerate(HEAT_LEVELS)]
    fig.add_trace(go.Heatmap(x=x_edges, y=y_edges, z=levels, zmin=0, zmax=9, colorscale=scale, xgap=2, showscale=False,
                             hoverinfo="skip", xaxis=xa, yaxis=ya))
    centers = [(a + b) / 2 for a, b in zip(x_edges, x_edges[1:])]
    widths = [(b - a) * .98 for a, b in zip(x_edges, x_edges[1:])]
    xs, ys = new_axes(strip, dict(range=[x_edges[0], x_edges[-1]], showticklabels=True, tickvals=centers, ticktext=clusters,
                                  tickangle=label_angle, tickfont=dict(size=label_font, family=FONT, color="#111111"), ticklabelstandoff=label_standoff),
                      dict(range=[0, 1]))
    fig.add_trace(go.Bar(x=centers, y=[1] * len(centers), width=widths, marker=dict(color=colors, line=dict(width=0)),
                         xaxis=xs, yaxis=ys, hoverinfo="skip", showlegend=False))


def leader(genes, zx_text, zx_start, zx_end, sx, ox, oy, font):
    for name, y_text, y_from, y_to in genes:
        text(ox + zx_text / sx, oy + y_text / 3, name, size=font, xanchor="right", italic=True, color="#222222")
        if y_from is not None:
            shapes.append(dict(type="line", xref="paper", yref="paper", x0=(ox + zx_start / sx) / W, x1=(ox + zx_end / sx) / W,
                               y0=1 - (oy + y_from / 3) / H, y1=1 - (oy + y_to / 3) / H, line=dict(color="#333333", width=.9)))


# ---------- a ----------
A_BOX = (177, 566, 67.7, 285.7)
stacked_violin(A_BOX, (79, 17.7), A_ROWS, A_GENES, A_MAXCPM, A_LINES, A_VIOLINS, A_COLORS, 13.5, 60.7, .03, 3, .12)
gene_bars((575, 615, 65.7, 285.7), (79, 17.7), 12, A_GENES_PER_CELL, 5700, [1000, 3000, 5000])
text(380, 21, "SFO cell classes")
text(155, 60.7, "Max CPM", size=10.5)
text(41, 160, "Cell type", angle=-90)
text(598, 293, "Genes/cell", size=10.5)
# ---------- b ----------
B_BOX = (807, 1247.6, 57.3, 293.3)
stacked_violin(B_BOX, (67.7, 17.92), B_ROWS, B_GENES, B_MAXCPM, B_LINES, B_VIOLINS, B_COLORS, 13.5, 47.7, .03, 2, .1)
gene_bars((1256, 1295, 57, 293.3), (67.7, 17.92), 13, B_GENES_PER_CELL, 3900, [1000, 3000])
text(1052, 21, "OVLT cell classes")
text(783, 47.7, "Max CPM", size=10.5)
text(675, 160, "Cell type", angle=-90)
text(1282, 302, "Genes/cell", size=10.5)
# ---------- c ----------
marker_heatmap((94.7, 508.4, 423.3, 625), (94.7, 508.4, 626, 629.3), C_X_EDGES, C_Y_EDGES, C_BANDS, C_CLUSTERS, A_COLORS)
leader(C_GENES, 178, 185, 225, 2.376, 0, 370, 11.5)
colorbar((443, 508, 405, 418.3), (454, 472, 490))
text(441, 410.7, "Expression (z-scored)", size=13, xanchor="right")
# ---------- d ----------
marker_heatmap((694.2, 1126, 414, 625), (694.2, 1126, 626, 629.3), D_X_EDGES, D_Y_EDGES, D_BANDS, D_CLUSTERS, B_COLORS)
leader(D_GENES, 155, 158, 200, 2.376, 610, 370, 11.5)
colorbar((1061.6, 1126, 396, 409.3), (1072, 1090, 1108))
text(1059, 401, "Expression (z-scored)", size=13, xanchor="right")
# ---------- e ----------
LEFT_UMAP = (0, 660, 720, 1080)
RIGHT_UMAP = (650, 1310, 720, 1080)
xa, ya = new_axes(LEFT_UMAP, dict(range=[0, 1568]), dict(range=[1080, 0]))
for name, pts in UMAP_CLUSTERS.items():
    fig.add_trace(go.Scatter(x=[p[0] for p in pts], y=[p[1] for p in pts], mode="markers", marker=dict(size=6, color=UMAP_COLORS[name], line=dict(width=0)),
                             xaxis=xa, yaxis=ya, hoverinfo="skip", showlegend=False))
for label, lx_, ly_ in UMAP_LABELS:
    annotations.append(dict(x=lx_, y=ly_, xref=xa, yref=ya, text=label, showarrow=False, font=dict(size=13.5, family=FONT, color="#111111")))
annotations.append(dict(x=748, y=358, xref=xa, yref=ya, text="Gaba7-Ttn", showarrow=False, font=dict(size=11, family=FONT, color="#333333")))
xb, yb = new_axes(RIGHT_UMAP, dict(range=[0, 1568]), dict(range=[1080, 0]))
for status, members in UMAP_STATUS.items():
    pts = [p for m in members for p in UMAP_CLUSTERS[m]]
    fig.add_trace(go.Scatter(x=[p[0] for p in pts], y=[p[1] for p in pts], mode="markers", marker=dict(size=6, color=STATUS_COLORS[status], line=dict(width=0)),
                             xaxis=xb, yaxis=yb, hoverinfo="skip", showlegend=False))
xl, yl = new_axes((1172, 1300, 857, 903), dict(range=[0, 128]), dict(range=[3, 0]))
names = list(LEGEND_COLORS)
fig.add_trace(go.Scatter(x=[7] * 3, y=[.5, 1.5, 2.5], mode="markers+text", text=names, textposition="middle right",
                         textfont=dict(size=13.5, family=FONT, color="#111111"), marker=dict(size=7, color=[LEGEND_COLORS[n] for n in names]),
                         xaxis=xl, yaxis=yl, hoverinfo="skip", showlegend=False))
text(605, 749, "OVLT region neurons", size=14)
for ox_, oy_, tx_, ty_, lx_, ly_ in [(54.7, 1058, 141, 971.7, 92, 1069), (694.5, 1058, 780.7, 970, 731.6, 1069)]:
    for hx, hy, dx, dy in [(tx_, oy_, -(tx_ - ox_), 0), (ox_, ty_, 0, oy_ - ty_)]:
        annotations.append(dict(x=hx / W, y=1 - hy / H, xref="paper", yref="paper", ax=dx, ay=dy, text="", showarrow=True,
                                arrowhead=2, arrowsize=1, arrowwidth=1.2, arrowcolor="#333333"))
    text(lx_, ly_, "UMAP1", size=13.5)
    text(ox_ - 11, (oy_ + ty_) / 2 + 2, "UMAP2", size=13.5, angle=-90)
# ---------- f ----------
F_BOX = (143, 1366.8, 1140, 1523.3)
stacked_violin(F_BOX, (1150.3, 18.02), F_ROWS, F_GENES, F_MAXCPM, F_LINES, F_VIOLINS, F_COLORS, 14, 1128, .07, 7, .1, F_ROW_IS_BLACK)
text(100, 1128, "Max CPM", size=10.5)
# ---------- g ----------
marker_heatmap((95, 432.3, 1665.7, 1838.3), (95, 432.3, 1841, 1844.7), G_X_EDGES, G_Y_EDGES, G_BANDS, G_CLUSTERS, G_COLORS, 12.3, 46, 0)
leader(G_GENES, 185, 188, 219, 2.306, 0, 1590, 11)
colorbar((373.8, 432.3, 1648.7, 1660.7), (383.8, 400.3, 416.3))
text(372, 1654.7, "Expression (z-scored)", size=10.5, xanchor="right")
text(260.6, 1628.7, "SFO neuron types", size=12)
# ---------- h ----------
marker_heatmap((693.2, 1036.2, 1665.7, 1839), (693.2, 1036.2, 1841.3, 1845), H_X_EDGES, H_Y_EDGES, H_BANDS, H_CLUSTERS, H_COLORS, 12.3, 46, 0)
leader(H_GENES, 194, 200, 238, 2.306, 590, 1600, 11)
colorbar((979, 1036, 1649, 1660.3), (988.5, 1005, 1021))
text(976, 1654.7, "Expression (z-scored)", size=10.5, xanchor="right")
text(874, 1629, "OVLT neuron types (internal and regional neuros only)", size=12)
# ---------- panel letters ----------
for letter, px, py in [("a", 8.5, 20), ("b", 665, 18), ("c", 8, 385), ("d", 607, 383), ("e", 8, 733), ("f", 5, 1110), ("g", 9, 1610), ("h", 607, 1608)]:
    text(px, py, letter, size=28, bold=True, color="#000000")

layout.update(width=W, height=H, margin=dict(l=0, r=0, t=0, b=0, autoexpand=False), paper_bgcolor="white", plot_bgcolor="rgba(0,0,0,0)",
              violinmode="overlay", barmode="overlay", font=dict(family=FONT), annotations=annotations, shapes=shapes, showlegend=False)
fig.update_layout(**layout)
fig.write_html("out.html", post_script="document.body.style.margin='0';", config=dict(displayModeBar=False))
